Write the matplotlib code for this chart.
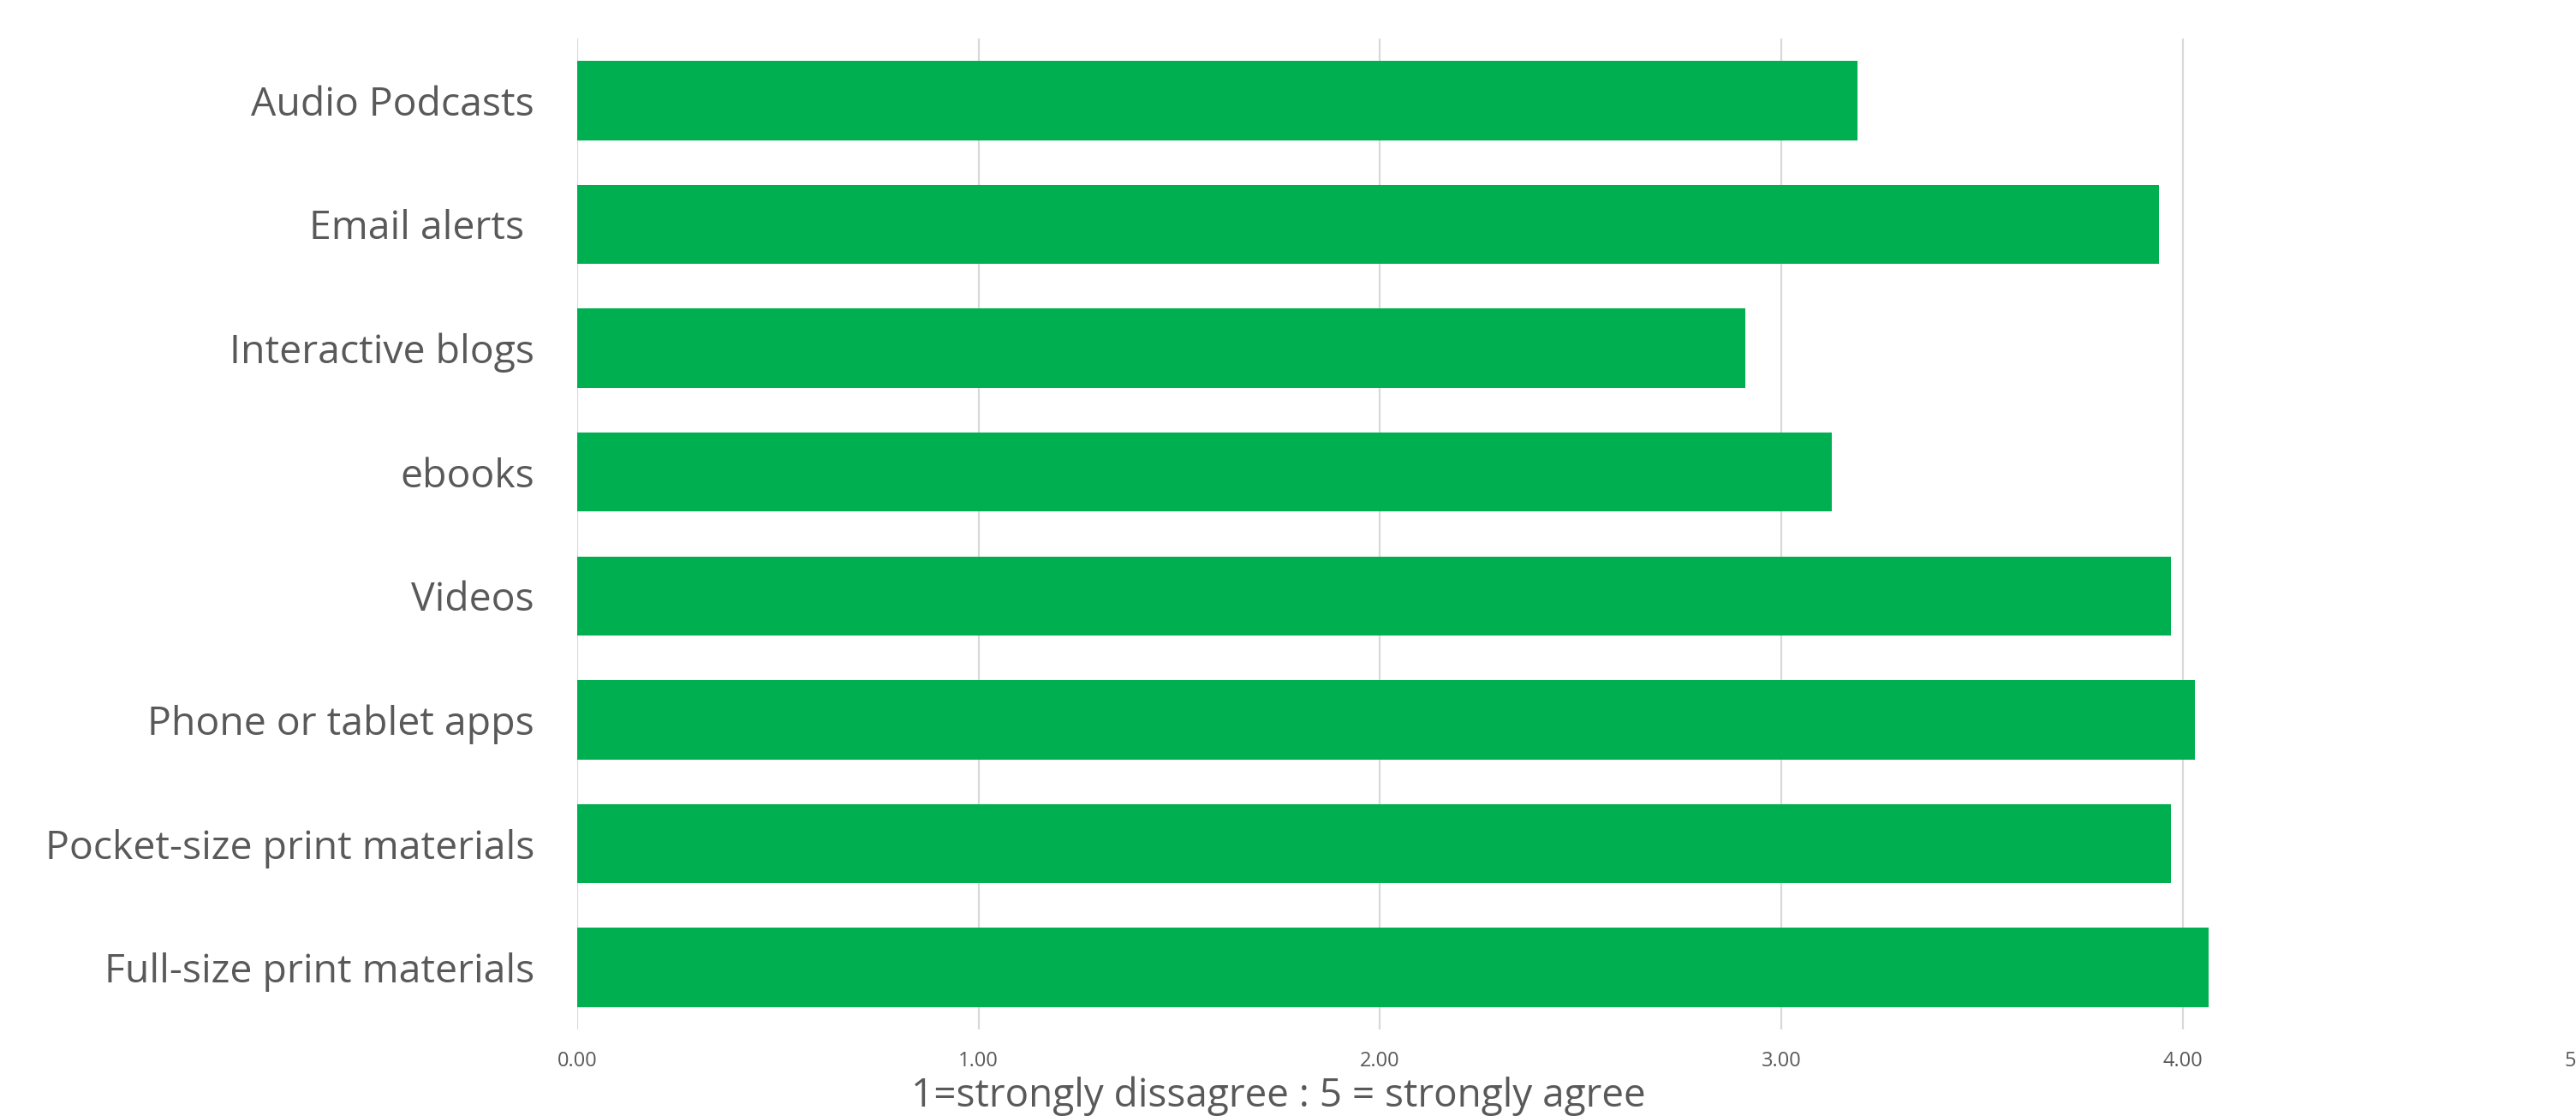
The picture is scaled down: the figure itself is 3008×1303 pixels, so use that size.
import matplotlib
matplotlib.use("Agg")
import matplotlib.pyplot as plt

categories = ["Audio Podcasts", "Email alerts ", "Interactive blogs", "ebooks",
              "Videos", "Phone or tablet apps", "Pocket-size print materials",
              "Full-size print materials"]
values = [3.19, 3.94, 2.91, 3.125, 3.97, 4.03, 3.97, 4.065]
xticks = [0, 1, 2, 3, 4, 5]
xtick_labels = ["0.00", "1.00", "2.00", "3.00", "4.00", "5.00"]
xlabel = "1=strongly dissagree : 5 = strongly agree"

plt.rcParams['font.family'] = ['Open Sans', 'DejaVu Sans']
gray = "#595959"

fig = plt.figure(figsize=(30.08, 13.03), dpi=100)
ax = fig.add_axes([674/3008, 1 - 1202/1303, 2343.5/3008, (1202-45)/1303])

ypos = list(range(len(categories)))
ax.barh(ypos, values, height=0.64, color="#00B050", zorder=3)
ax.set_ylim(len(categories) - 0.5, -0.5)
ax.set_xlim(0, 5)
ax.set_yticks(ypos)
ax.set_yticklabels(categories, fontsize=33.4, color=gray)
ax.set_xticks(xticks)
ax.set_xticklabels(xtick_labels, fontsize=17, color=gray)
ax.tick_params(axis='y', length=0, pad=36)
ax.tick_params(axis='x', length=0, pad=18)
ax.grid(axis='x', color="#D9D9D9", linewidth=1.6, zorder=0)
for s in ax.spines.values():
    s.set_visible(False)

fig.text(1493/3008, 1 - 1280/1303, xlabel, fontsize=33, color=gray,
         ha='center', va='center')

fig.savefig("out.png", dpi=100)
